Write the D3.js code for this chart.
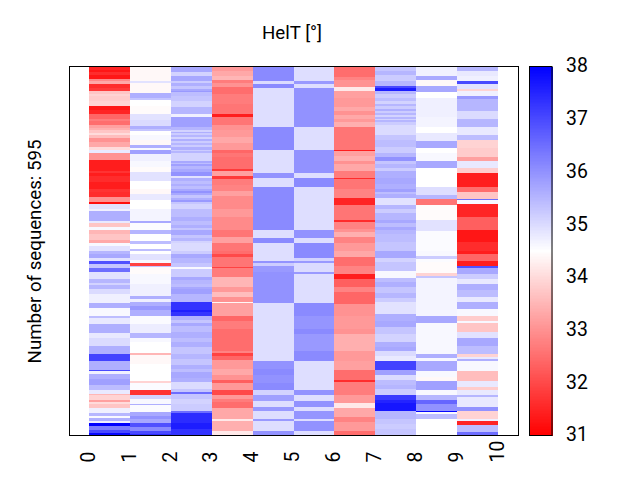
<!DOCTYPE html>
<html><head><meta charset="utf-8">
<script src="https://cdn.jsdelivr.net/npm/d3@7"></script>
<style>html,body{margin:0;padding:0;background:#fff}svg{display:block}text{font-family:Roboto,sans-serif;fill:#000}</style>
</head><body><svg id="c" width="640" height="480"></svg>
<script>
// Each column: [last sequence row of the band, HelT value]
const col0=[[6,31.5],[9,31.3],[14,31.6],[20,31.3],[24,32.9],[28,33.3],[34,31.6],[39,31.8],[44,33.7],[48,33.9],[56,33.8],[63,33.9],[70,31.3],[77,31.5],[84,32.4],[88,32.7],[95,32.5],[99,33.2],[103,33.4],[108,33.7],[111,34],[115,33.6],[122,33],[129,33.3],[135,34],[140,34.8],[151,33],[168,31.4],[172,31.7],[176,31.4],[186,31.6],[197,31.4],[203,31.7],[211,31.6],[219,33],[222,31.2],[230,34.9],[233,34.7],[249,35.6],[253,34.8],[259,33.7],[263,34.6],[270,33.5],[280,33.7],[285,33.3],[289,34.6],[297,34.9],[303,35.5],[309,35.7],[313,34.9],[318,36.9],[325,35.3],[331,36.5],[342,34.9],[349,35.5],[353,35.1],[359,35.5],[367,35],[382,34.7],[389,35.6],[402,34.6],[405,35.4],[416,34.8],[430,35.6],[438,34.8],[450,35],[464,35.6],[475,37.1],[489,35.6],[491,37],[496,34.7],[504,35.6],[514,35.8],[521,35.4],[528,34.8],[529,33.5],[537,33.9],[541,33.2],[545,34],[550,33.7],[559,34.7],[564,35.5],[567,34.6],[571,35.6],[575,34.7],[579,38],[586,36.3],[591,37],[595,37.9]];
const col1=[[23,34.4],[27,34.9],[42,34.4],[50,35.6],[54,35.3],[63,34.5],[77,34.45],[86,34.9],[96,35],[101,35.6],[104,35.3],[111,34.5],[119,34.6],[127,34.4],[131,35.6],[134,34.6],[141,35.8],[152,34.7],[162,34.6],[170,34.45],[185,34.9],[197,34.5],[205,34.4],[216,34.8],[230,34.5],[249,34.65],[252,35.7],[263,34.55],[270,35.5],[282,34.5],[286,35.4],[295,34.5],[297,35.4],[303,34.5],[312,34.9],[317,34.6],[321,31.9],[324,35.3],[334,34.45],[350,34.6],[370,34.7],[375,35.6],[380,34.7],[386,35.6],[392,35.9],[402,35.6],[415,34.55],[430,34.75],[438,35.5],[445,34.6],[462,34.5],[466,33.5],[480,34.4],[507,34.5],[510,33.9],[522,34.55],[529,31.7],[536,35.1],[544,34.6],[546,35.6],[557,34.55],[563,35.7],[569,36],[575,35.7],[582,36.9],[587,36.1],[592,37],[595,37.4]];
const col2=[[9,35.7],[16,35.1],[23,35.7],[27,35.2],[32,35.6],[36,35.3],[39,35.7],[41,35.9],[48,35.4],[55,35.3],[65,35.1],[77,35.5],[81,34.7],[98,35.8],[103,35.5],[105,35.1],[108,35.6],[111,35.2],[114,35.5],[117,35.1],[120,35.6],[123,35.2],[127,35.5],[130,35.2],[134,35.6],[137,35.2],[140,35.5],[152,35.1],[155,35.7],[158,35.4],[161,35.8],[166,35.5],[170,35.7],[176,36],[180,34.9],[185,35.6],[189,35.4],[193,35.6],[197,35.4],[200,35.7],[204,36],[208,35.7],[212,35.3],[215,35.6],[218,35.9],[221,35.3],[230,35.1],[243,35.4],[249,35.6],[256,35.4],[260,35.6],[264,35.3],[271,35.7],[276,35.3],[281,35.5],[285,35.1],[297,35],[303,35.2],[309,35.7],[317,35.5],[324,35.3],[326,34.6],[340,35.2],[345,35.7],[351,35.5],[355,35.4],[359,35.7],[367,35.8],[380,35.5],[392,37.3],[396,37.6],[402,37.3],[408,35.6],[413,35.3],[418,35.7],[428,35.4],[437,35.6],[445,35.4],[453,35.6],[463,35.3],[472,35.5],[482,35.3],[488,35.6],[493,35.4],[502,35.7],[509,35.6],[520,35],[525,35.3],[528,36.5],[536,35.3],[544,35.1],[555,35.2],[559,36.5],[575,37.4],[585,37.6],[595,37.3]];
const col3=[[8,33.1],[15,33.3],[22,33.5],[27,32.7],[33,33],[44,32.5],[61,32.7],[77,32.6],[81,31.4],[95,32.6],[103,33],[113,33.1],[124,33.3],[134,33.1],[140,32.4],[146,32.6],[165,32.5],[169,31.8],[177,33.2],[181,31.8],[191,32.7],[201,32.8],[209,33.2],[230,32.9],[243,33.1],[264,32.9],[275,32.6],[285,33.2],[297,32.6],[302,32.5],[307,32],[324,32.6],[325,31.9],[340,32.7],[355,33.5],[364,33.1],[372,33.6],[380,33],[382,34.4],[402,33.2],[410,32.4],[423,32.7],[437,32.5],[458,32.5],[462,32.8],[467,31.9],[474,32.4],[488,33.1],[497,33.3],[506,33],[510,32.3],[521,33.1],[529,32],[536,33.1],[541,32.7],[550,32.5],[569,33.3],[571,34.2],[587,33.4],[595,34.2]];
const col4=[[23,36.1],[28,35],[34,36.1],[97,34.95],[135,36.1],[171,34.95],[180,36],[194,34.95],[263,36.1],[276,34.95],[285,36.1],[313,34.95],[317,36],[321,35.2],[331,35.9],[382,36],[475,34.95],[488,36],[497,36.1],[510,36],[522,36.1],[529,35.1],[540,35.8],[549,34.95],[556,35.9],[568,34.95],[571,35.9],[587,34.95],[595,36]];
const col5=[[23,34.95],[28,35.9],[34,34.95],[97,36],[135,34.95],[171,36],[180,34.95],[194,36.1],[263,34.95],[276,36],[285,34.95],[309,36.1],[313,35.1],[317,35.9],[331,35],[334,35.9],[382,34.95],[403,36.1],[423,35.95],[431,36.1],[458,35.9],[475,36.1],[522,34.95],[529,36],[540,34.95],[549,36],[556,34.95],[568,35.95],[571,34.95],[587,36],[595,34.95]];
const col6=[[17,32.5],[22,32.8],[33,33],[39,34.2],[50,33.2],[66,33.1],[72,33.3],[78,33],[84,33.3],[90,33.1],[97,33.4],[134,32.6],[136,31.4],[145,33.2],[152,33.4],[158,33],[168,33.3],[179,32.7],[181,31.6],[197,32.6],[212,32.8],[223,31.5],[248,32.6],[251,31.6],[262,32.8],[267,33],[275,33.4],[285,32.8],[297,33.1],[307,33.3],[321,32.5],[334,32.8],[342,31.4],[355,32.3],[364,32.8],[383,32.4],[403,33],[423,33.1],[432,33],[458,33.4],[475,33.1],[490,33.2],[505,32.5],[509,31.6],[529,32.7],[542,33.1],[550,34.2],[565,33.3],[574,32.8],[587,33.1],[595,32.5]];
const col7=[[8,35.3],[14,35.5],[23,35.2],[31,35.5],[35,37],[40,37.6],[45,35.5],[50,35.2],[55,35.4],[60,35.1],[64,35.5],[68,35.2],[71,35.6],[75,35.2],[78,35.5],[81,35.1],[84,35.5],[87,35.1],[90,35.5],[95,35.2],[110,35],[118,35.3],[130,35.4],[140,35.2],[146,35.5],[153,36],[158,35.3],[163,35.5],[169,35.2],[179,35.6],[190,35.7],[197,35.6],[203,35.8],[206,35.4],[212,35.6],[223,34.9],[230,35.5],[236,35.2],[248,35.5],[253,35.7],[258,35.4],[264,35.7],[270,35.5],[283,35.4],[297,35.3],[309,35.7],[316,35.1],[329,35.3],[341,34.6],[348,35.4],[356,35.6],[366,35.3],[373,35.5],[380,35.2],[399,34.9],[410,35.6],[420,35.7],[432,35.3],[445,35.1],[452,35.6],[458,35.7],[467,35],[475,34.8],[490,37.1],[498,35.8],[506,35],[513,35.4],[520,35.5],[529,35.2],[537,37.2],[543,37.5],[556,37.7],[568,35.5],[576,35.3],[585,35.2],[595,35.3]];
const col8=[[15,34.7],[22,35.7],[31,34.4],[41,35.7],[50,34.5],[82,34.7],[98,34.65],[108,34.5],[120,34.8],[131,35.7],[140,34.5],[152,34.6],[164,35.7],[194,34.5],[208,34.95],[214,35.5],[223,32.6],[248,34.45],[265,34.9],[297,34.55],[305,34.6],[310,35.2],[316,34.55],[333,34.45],[338,33.9],[341,35.3],[402,34.65],[413,35.7],[463,34.6],[470,35.6],[475,34.6],[491,35.7],[500,34.6],[507,34.4],[522,35.8],[529,34.6],[537,35.5],[545,36.6],[555,36],[557,37.9],[560,34.6],[568,35.4],[595,34.5]];
const col9=[[7,35.5],[16,34.8],[23,34.7],[29,37],[36,34.9],[40,33.9],[47,34.7],[52,35.9],[58,35.5],[71,35.5],[84,35],[98,35.5],[110,34.8],[118,35.4],[131,33.9],[146,33.8],[153,33.2],[163,34.8],[171,33.8],[194,31.4],[203,32.5],[213,33.7],[216,36.5],[221,34.6],[243,31.5],[263,32.3],[283,31.3],[297,31.6],[303,31.4],[313,32.4],[321,31.4],[325,36.9],[334,35.7],[342,35.2],[351,34.8],[360,35.6],[372,35.4],[380,34.8],[391,35.6],[402,34.6],[410,33.8],[414,34.6],[428,33.7],[438,34.9],[450,35.7],[463,35.4],[468,33.9],[471,34.8],[475,35.6],[491,34.6],[507,33.6],[517,34.8],[522,33.8],[529,34.8],[533,35.5],[549,34.8],[556,36],[568,33.9],[571,34.7],[578,31.5],[590,35.4],[595,36.5]];
const columns=[col0,col1,col2,col3,col4,col5,col6,col7,col8,col9];
const xTicks=[0,1,2,3,4,5,6,7,8,9,10];
const cbarTicks=[31,32,33,34,35,36,37,38];
const sequenceCount=595;
const titleText="HelT [°]";
const yLabelText="Number of sequences: "+sequenceCount;

const svg=d3.select("#c");
const x=d3.scaleLinear().domain([0,10]).range([89,498]);
const y=d3.scaleLinear().domain([0,sequenceCount]).range([66.5,435.5]);
const color=d3.scaleLinear().domain([31,34.5,38]).range(["#ff0000","#ffffff","#0000ff"]);
const cy=d3.scaleLinear().domain([31,38]).range([435.5,66.5]);

const cols=svg.append("g").attr("shape-rendering","crispEdges").selectAll("g").data(columns).join("g");
cols.each(function(bands,i){
  d3.select(this).selectAll("rect").data(bands).join("rect")
    .attr("x",x(i)).attr("width",x(i+1)-x(i))
    .attr("y",(d,j)=>y(j?bands[j-1][0]:0))
    .attr("height",(d,j)=>y(d[0])-y(j?bands[j-1][0]:0))
    .attr("fill",d=>color(d[1]));
});
svg.append("rect").attr("x",69.5).attr("y",y.range()[0])
  .attr("width",449).attr("height",y.range()[1]-y.range()[0])
  .attr("fill","none").attr("stroke","#000").attr("stroke-width",1);

const xAxis=svg.append("g").attr("transform",`translate(0,${y.range()[1]})`)
  .call(d3.axisBottom(x).tickValues(xTicks).tickSize(0).tickFormat(d3.format("d")));
xAxis.select(".domain").remove();
xAxis.selectAll("text").attr("font-size",19.4).style("font-family","Roboto,sans-serif")
  .attr("text-anchor","start").attr("x",0).attr("y",0).attr("dy",null)
  .attr("transform","translate(5.2,27) rotate(-90)");

const levels=d3.range(0,256).map(k=>31+7*k/256);
const cb=svg.append("g").attr("shape-rendering","crispEdges");
cb.selectAll("rect").data(levels).join("rect")
  .attr("x",529.5).attr("width",23)
  .attr("y",d=>cy(d+7/256)).attr("height",d=>cy(d)-cy(d+7/256)+0.5)
  .attr("fill",d=>color(d));
svg.append("rect").attr("x",529.5).attr("y",66.5).attr("width",22.5).attr("height",369)
  .attr("fill","none").attr("stroke","#000");
const cAxis=svg.append("g").attr("transform","translate(552,0)")
  .call(d3.axisRight(cy).tickValues(cbarTicks).tickSize(0).tickPadding(14).tickFormat(d3.format("d")));
cAxis.select(".domain").remove();
cAxis.selectAll("text").attr("font-size",19.4).attr("dy","0.28em").style("font-family","Roboto,sans-serif");

svg.append("text").attr("x",292).attr("y",39).attr("text-anchor","middle").attr("font-size",18.7).text(titleText);
svg.append("text").attr("transform","translate(41,251.5) rotate(-90)").attr("text-anchor","middle").attr("font-size",18.7).text(yLabelText);
</script></body></html>
